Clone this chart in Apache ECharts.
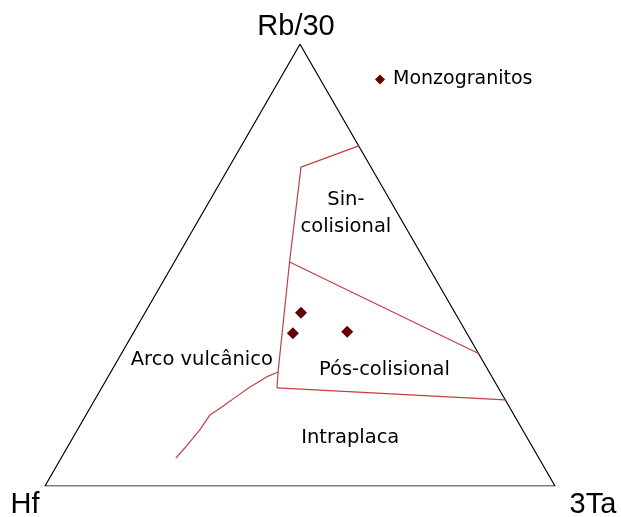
<!DOCTYPE html>
<html>
<head>
<meta charset="utf-8">
<script src="https://cdn.jsdelivr.net/npm/echarts@6/dist/echarts.min.js"></script>
<style>
  html, body { margin: 0; padding: 0; background: #fff; }
  #main { width: 621px; height: 517px; }
</style>
</head>
<body>
<div id="main"></div>
<script>
// compositions are [Hf, Rb/30, 3Ta] in percent
const samples = [[30.2, 39.2, 30.6], [34.1, 34.6, 31.3], [23.3, 34.9, 41.8]];

const corners = [[0, 100, 0], [100, 0, 0], [0, 0, 100], [0, 100, 0]];
const cornerNames = ['Rb/30', 'Hf', '3Ta'];

// field boundaries
const sinLine = [[0, 77, 23], [13.7, 72.2, 14.1], [26.7, 50.7, 22.6], [41.4, 25.8, 32.8], [43.4, 22.2, 34.4]];
const sinPosLine = [[26.7, 50.7, 22.6], [0, 30, 70]];
const posIntraLine = [[43.4, 22.2, 34.4], [0, 19.5, 80.5]];
const arcoLine = [[71.2, 6.3, 22.5], [68.3, 8.6, 23.1], [63.3, 12.7, 24], [59.6, 16.1, 24.3],
  [56, 18.1, 25.9], [51.4, 20.8, 27.8], [48.6, 22.4, 29], [44.2, 24.7, 31.1], [41.4, 25.8, 32.8]];

const fieldNames = ['Sin-\ncolisional', 'Arco vulcânico', 'Pós-colisional', 'Intraplaca'];
const fieldPos = [[10.2, 61.6, 28.2], [55, 28.5, 16.5], [20.3, 26.3, 53.4], [34.7, 10.9, 54.4]];

const H = Math.sqrt(3) / 2;
const toXY = c => {
  const s = c[0] + c[1] + c[2];
  const rb = c[1] / s, ta = c[2] / s;
  return [ta + rb / 2, rb * H];
};

const red = '#c04040';
const lineSeries = (data) => ({
  type: 'line', data: data.map(toXY), symbol: 'none', silent: true,
  lineStyle: { color: red, width: 1.2 }
});

const chart = echarts.init(document.getElementById('main'));
chart.setOption({
  animation: false,
  backgroundColor: '#fff',
  grid: { left: 45, right: 66, top: 44.3, bottom: 31 },
  xAxis: { type: 'value', min: 0, max: 1, show: false },
  yAxis: { type: 'value', min: 0, max: H, show: false },
  legend: {
    data: ['Monzogranitos'],
    left: 375, top: 70, padding: 0,
    itemWidth: 10, itemHeight: 10, icon: 'diamond',
    textStyle: { fontFamily: 'DejaVu Sans', fontSize: 19, color: '#000', padding: [0, 0, 0, 3] }
  },
  series: [
    {
      type: 'line', data: corners.map(toXY), symbol: 'none', silent: true,
      lineStyle: { color: '#000', width: 1.2 }
    },
    lineSeries(sinLine),
    lineSeries(sinPosLine),
    lineSeries(posIntraLine),
    lineSeries(arcoLine),
    {
      name: 'Monzogranitos', type: 'scatter', symbol: 'diamond', symbolSize: 12,
      itemStyle: { color: '#660000', opacity: 1 },
      data: samples.map(toXY)
    },
    {
      type: 'scatter', symbolSize: 0, silent: true,
      itemStyle: { opacity: 1 },
      data: fieldNames.map((n, i) => ({ name: n, value: toXY(fieldPos[i]) })),
      label: {
        show: true, position: 'inside', formatter: p => p.name,
        fontFamily: 'DejaVu Sans', fontSize: 19.5, color: '#000', lineHeight: 27, align: 'center'
      }
    },
    {
      type: 'scatter', symbolSize: 0, silent: true,
      itemStyle: { opacity: 1 },
      data: cornerNames.map((n, i) => ({ name: n, value: toXY(corners[i]) })),
      label: {
        show: true, position: 'inside', formatter: p => p.name,
        fontFamily: 'Liberation Sans', fontSize: 29, color: '#000'
      },
      labelLayout: p => {
        const offs = { 'Rb/30': [-4, -17], 'Hf': [-20, 19], '3Ta': [38, 19] }[cornerNames[p.dataIndex]];
        return { x: p.rect.x + p.rect.width / 2 + offs[0], y: p.rect.y + p.rect.height / 2 + offs[1], align: 'center', verticalAlign: 'middle' };
      }
    }
  ]
});
</script>
</body>
</html>
